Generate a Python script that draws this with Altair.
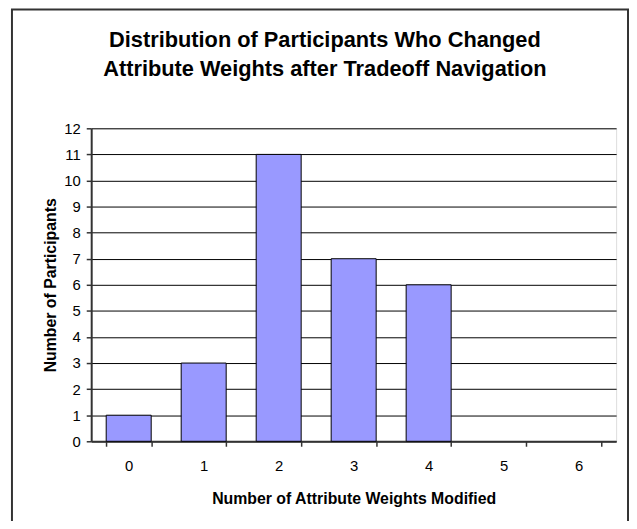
import altair as alt
import pandas as pd

categories = ["0", "1", "2", "3", "4", "5", "6"]
participants = [1, 3, 11, 7, 6, 0, 0]
y_ticks = list(range(0, 13))

title_lines = ["Distribution of Participants Who Changed",
               "Attribute Weights after Tradeoff Navigation"]
x_title = "Number of Attribute Weights Modified"
y_title = "Number of Participants"

df = pd.DataFrame({"cat": categories, "n": participants})

FONT = "Liberation Sans"

bars = alt.Chart(df).transform_filter(
    alt.datum.n > 0
).mark_bar(
    fill="#9999FF", stroke="#000000", strokeWidth=1
).encode(
    x=alt.X("cat:O", sort=categories,
            scale=alt.Scale(domain=categories, paddingInner=0.4, paddingOuter=0.2),
            axis=alt.Axis(title=x_title, labelAngle=0, tickBand="extent",
                          tickSize=5, tickColor="#333333", tickWidth=1.5,
                          domainColor="#333333", domainWidth=2,
                          labelPadding=12, labelFontSize=15, labelFont=FONT,
                          labelColor="#000000",
                          titleFont=FONT, titleFontSize=16, titleFontWeight="bold",
                          titleColor="#000000", titlePadding=18)),
    y=alt.Y("n:Q",
            scale=alt.Scale(domain=[0, 12], nice=False),
            axis=alt.Axis(title=y_title, values=y_ticks, grid=True,
                          gridColor="#000000", gridWidth=1, gridOpacity=1,
                          tickSize=5, tickColor="#333333", tickWidth=1.5,
                          domainColor="#333333", domainWidth=2,
                          labelPadding=6, labelFontSize=15, labelFont=FONT,
                          labelColor="#000000",
                          titleFont=FONT, titleFontSize=16, titleFontWeight="bold",
                          titleColor="#000000", titlePadding=5)),
)

frame = alt.Chart(alt.Data(values=[{"a": 1}])).mark_rect(
    fill=None, stroke="#333333", strokeWidth=2
).encode(
    x=alt.value(-80), x2=alt.value(542),
    y=alt.value(-120), y2=alt.value(440),
)

title_df = pd.DataFrame({"t": ["\n".join(title_lines)]})
title = alt.Chart(title_df).mark_text(
    font=FONT, fontSize=22, fontWeight="bold", color="#000000",
    lineBreak="\n", lineHeight=29, align="center", baseline="alphabetic",
).encode(
    text="t:N",
    x=alt.value(236), y=alt.value(-82),
)

chart = alt.layer(bars, frame, title).properties(
    width=530, height=316,
    autosize=alt.AutoSizeParams(type="none"),
    padding={"left": 84, "top": 119, "right": 13, "bottom": 78},
).configure_view(
    stroke="#808080", strokeWidth=1.5
).configure(background="#ffffff")

chart.save("out.html", embed_options={"renderer": "svg", "actions": False})
